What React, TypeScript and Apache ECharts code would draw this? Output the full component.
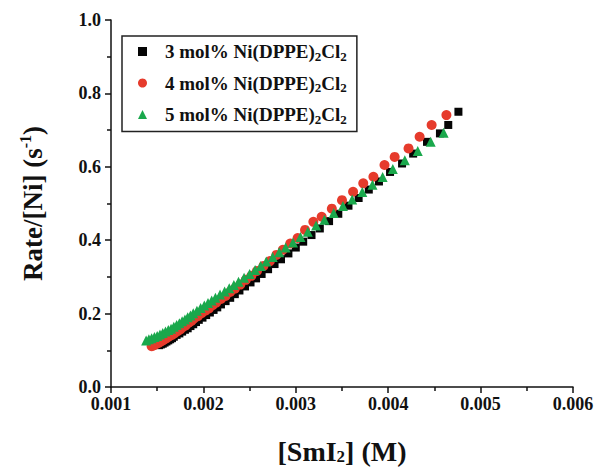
import React, { useEffect, useRef } from "react";
import * as echarts from "echarts";

const seriesNames = ["3 mol% Ni(DPPE)2Cl2", "4 mol% Ni(DPPE)2Cl2", "5 mol% Ni(DPPE)2Cl2"];

const xTicks = ["0.001", "0.002", "0.003", "0.004", "0.005", "0.006"];
const yTicks = ["0.0", "0.2", "0.4", "0.6", "0.8", "1.0"];

// 3 mol% (black squares)
const blackX = [
  0.00476, 0.00465, 0.00456, 0.00442, 0.00427, 0.00415, 0.00402, 0.0039, 0.00379, 0.00368,
  0.00357, 0.00346, 0.00336, 0.00326, 0.00317, 0.00308, 0.003, 0.00292, 0.00284, 0.00277,
  0.0027, 0.00263, 0.00257, 0.00251, 0.00245, 0.00239, 0.00234, 0.00229, 0.00224, 0.00219,
  0.00215, 0.00211, 0.00207, 0.00203, 0.00199, 0.00195, 0.00192, 0.00189, 0.00186, 0.00183,
  0.0018, 0.00177, 0.00174, 0.00171, 0.00168, 0.00166, 0.00164, 0.00162, 0.0016, 0.00158,
  0.00156, 0.00154, 0.00152,
];
const blackY = [
  0.75, 0.714, 0.691, 0.668, 0.636, 0.609, 0.586, 0.56, 0.538, 0.515,
  0.494, 0.472, 0.452, 0.432, 0.414, 0.396, 0.38, 0.364, 0.348, 0.335,
  0.321, 0.308, 0.296, 0.285, 0.274, 0.263, 0.253, 0.243, 0.234, 0.225,
  0.217, 0.21, 0.203, 0.196, 0.189, 0.183, 0.177, 0.171, 0.166, 0.16,
  0.156, 0.151, 0.146, 0.142, 0.137, 0.133, 0.13, 0.127, 0.124, 0.121,
  0.118, 0.116, 0.114,
];

// 4 mol% (red circles)
const redX = [
  0.00463, 0.00447, 0.00434, 0.00422, 0.00407, 0.00396, 0.00384, 0.00373, 0.00362, 0.0035,
  0.00339, 0.00328, 0.00319, 0.0031, 0.00302, 0.00294, 0.00286, 0.00279, 0.00272, 0.00265,
  0.00258, 0.00252, 0.00246, 0.0024, 0.00234, 0.00229, 0.00224, 0.00219, 0.00214, 0.0021,
  0.00206, 0.00202, 0.00198, 0.00194, 0.0019, 0.00187, 0.00184, 0.00181, 0.00178, 0.00175,
  0.00172, 0.00169, 0.00166, 0.00163, 0.0016, 0.00158, 0.00156, 0.00154, 0.00152, 0.0015,
  0.00148, 0.00146, 0.00144,
];
const redY = [
  0.741, 0.714, 0.682, 0.65, 0.627, 0.605, 0.573, 0.555, 0.532, 0.509,
  0.486, 0.464, 0.45, 0.428, 0.406, 0.391, 0.374, 0.36, 0.343, 0.33,
  0.316, 0.303, 0.292, 0.279, 0.268, 0.259, 0.248, 0.24, 0.23, 0.223,
  0.214, 0.208, 0.201, 0.193, 0.187, 0.18, 0.175, 0.168, 0.164, 0.157,
  0.152, 0.147, 0.142, 0.138, 0.133, 0.13, 0.127, 0.124, 0.121, 0.119,
  0.116, 0.113, 0.111,
];

// 5 mol% (green triangles)
const greenX = [
  0.0046, 0.00446, 0.00432, 0.00418, 0.00405, 0.00394, 0.00383, 0.00372, 0.00361, 0.00351,
  0.00341, 0.00331, 0.00322, 0.00313, 0.00305, 0.00297, 0.00289, 0.00282, 0.00275, 0.00268,
  0.00262, 0.00256, 0.0025, 0.00244, 0.00238, 0.00233, 0.00228, 0.00223, 0.00218, 0.00213,
  0.00209, 0.00205, 0.00201, 0.00197, 0.00193, 0.00189, 0.00186, 0.00183, 0.0018, 0.00177,
  0.00174, 0.00171, 0.00168, 0.00165, 0.00162, 0.00159, 0.00156, 0.00153, 0.0015, 0.00147,
  0.00144, 0.00141, 0.00138,
];
const greenY = [
  0.693, 0.668, 0.643, 0.618, 0.594, 0.572, 0.551, 0.531, 0.511, 0.493,
  0.474, 0.456, 0.44, 0.423, 0.409, 0.394, 0.38, 0.367, 0.354, 0.342,
  0.33, 0.319, 0.308, 0.298, 0.287, 0.278, 0.269, 0.26, 0.252, 0.243,
  0.236, 0.229, 0.222, 0.215, 0.208, 0.201, 0.195, 0.19, 0.184, 0.179,
  0.174, 0.169, 0.164, 0.159, 0.155, 0.151, 0.147, 0.143, 0.139, 0.136,
  0.133, 0.13, 0.127,
];

const FONT = "'Liberation Serif', 'Times New Roman', serif";
const zip = (xs: number[], ys: number[]) => xs.map((x, i) => [x, ys[i]]);

function legendRich(name: string): string {
  const m = name.match(/^(.*\))2Cl2$/);
  if (!m) return `{g|}{a|${name}}`;
  return `{g|}{a|${m[1]}}{s|2}{a|Cl}{s|2}`;
}

export default function App() {
  const ref = useRef<HTMLDivElement>(null);
  useEffect(() => {
    if (!ref.current) return;
    const chart = echarts.init(ref.current, undefined, { renderer: "svg" });
    chart.setOption({
      animation: false,
      backgroundColor: "#ffffff",
      grid: { left: 111, right: 23, top: 20, bottom: 83, containLabel: false, outerBoundsMode: "none" },
      legend: {
        orient: "vertical",
        left: 122,
        top: 36,
        borderColor: "#222",
        borderWidth: 1.5,
        padding: [6, 10, 6, 16],
        itemGap: 11,
        itemWidth: 9,
        itemHeight: 9,
        data: [
          { name: seriesNames[0], icon: "rect" },
          { name: seriesNames[1], icon: "circle" },
          { name: seriesNames[2], icon: "triangle" },
        ],
        formatter: (name: string) => legendRich(name),
        textStyle: {
          rich: {
            g: { width: 13 },
            a: { fontFamily: FONT, fontWeight: "bold", fontSize: 19, color: "#111", lineHeight: 22 },
            s: { fontFamily: FONT, fontWeight: "bold", fontSize: 13, color: "#111", lineHeight: 6, verticalAlign: "bottom" },
          },
        },
      },
      xAxis: {
        type: "value",
        min: 0.001,
        max: 0.006,
        interval: 0.001,
        name: "{a|[SmI}{s|2}{a|] (M)}",
        nameLocation: "middle",
        nameGap: 50,
        nameTextStyle: {
          rich: {
            a: { fontFamily: FONT, fontWeight: "bold", fontSize: 28, color: "#111", lineHeight: 28 },
            s: { fontFamily: FONT, fontWeight: "bold", fontSize: 17, color: "#111", lineHeight: 6, verticalAlign: "bottom" },
          },
        },
        axisLine: { show: true, onZero: false, lineStyle: { color: "#111", width: 1.5 } },
        axisTick: { show: true, inside: false, length: 6, lineStyle: { color: "#111", width: 1.5 } },
        minorTick: { show: true, splitNumber: 2, length: 4, lineStyle: { color: "#111", width: 1.5 } },
        splitLine: { show: false },
        minorSplitLine: { show: false },
        axisLabel: {
          fontFamily: FONT,
          fontWeight: "bold",
          fontSize: 18,
          color: "#111",
          margin: 8,
          formatter: (v: number) => xTicks[Math.round((v - 0.001) / 0.001)] ?? v.toFixed(3),
        },
      },
      yAxis: {
        type: "value",
        min: 0,
        max: 1,
        interval: 0.2,
        name: "{a|Rate/[Ni] (s}{p|-1}{a|)}",
        nameLocation: "middle",
        nameRotate: 90,
        nameGap: 62,
        nameTextStyle: {
          rich: {
            a: { fontFamily: FONT, fontWeight: "bold", fontSize: 27, color: "#111", lineHeight: 32 },
            p: { fontFamily: FONT, fontWeight: "bold", fontSize: 16, color: "#111", lineHeight: 14, verticalAlign: "top" },
          },
        },
        axisLine: { show: true, onZero: false, lineStyle: { color: "#111", width: 1.5 } },
        axisTick: { show: true, inside: false, length: 6, lineStyle: { color: "#111", width: 1.5 } },
        minorTick: { show: true, splitNumber: 2, length: 4, lineStyle: { color: "#111", width: 1.5 } },
        splitLine: { show: false },
        minorSplitLine: { show: false },
        axisLabel: {
          fontFamily: FONT,
          fontWeight: "bold",
          fontSize: 18,
          color: "#111",
          margin: 10,
          formatter: (v: number) => yTicks[Math.round(v / 0.2)] ?? v.toFixed(1),
        },
      },
      series: [
        {
          name: seriesNames[0],
          type: "scatter",
          symbol: "rect",
          symbolSize: 8,
          itemStyle: { color: "#050505", opacity: 1 },
          data: zip(blackX, blackY),
        },
        {
          name: seriesNames[1],
          type: "scatter",
          symbol: "circle",
          symbolSize: 10,
          itemStyle: { color: "#e63b2c", opacity: 1 },
          data: zip(redX, redY),
        },
        {
          name: seriesNames[2],
          type: "scatter",
          symbol: "triangle",
          symbolSize: 10,
          itemStyle: { color: "#1aa84c", opacity: 1 },
          data: zip(greenX, greenY),
        },
      ],
    });
    return () => chart.dispose();
  }, []);
  return (
    <div
      ref={ref}
      style={{ position: "fixed", left: 0, top: 0, width: 596, height: 470, background: "#fff" }}
    />
  );
}
